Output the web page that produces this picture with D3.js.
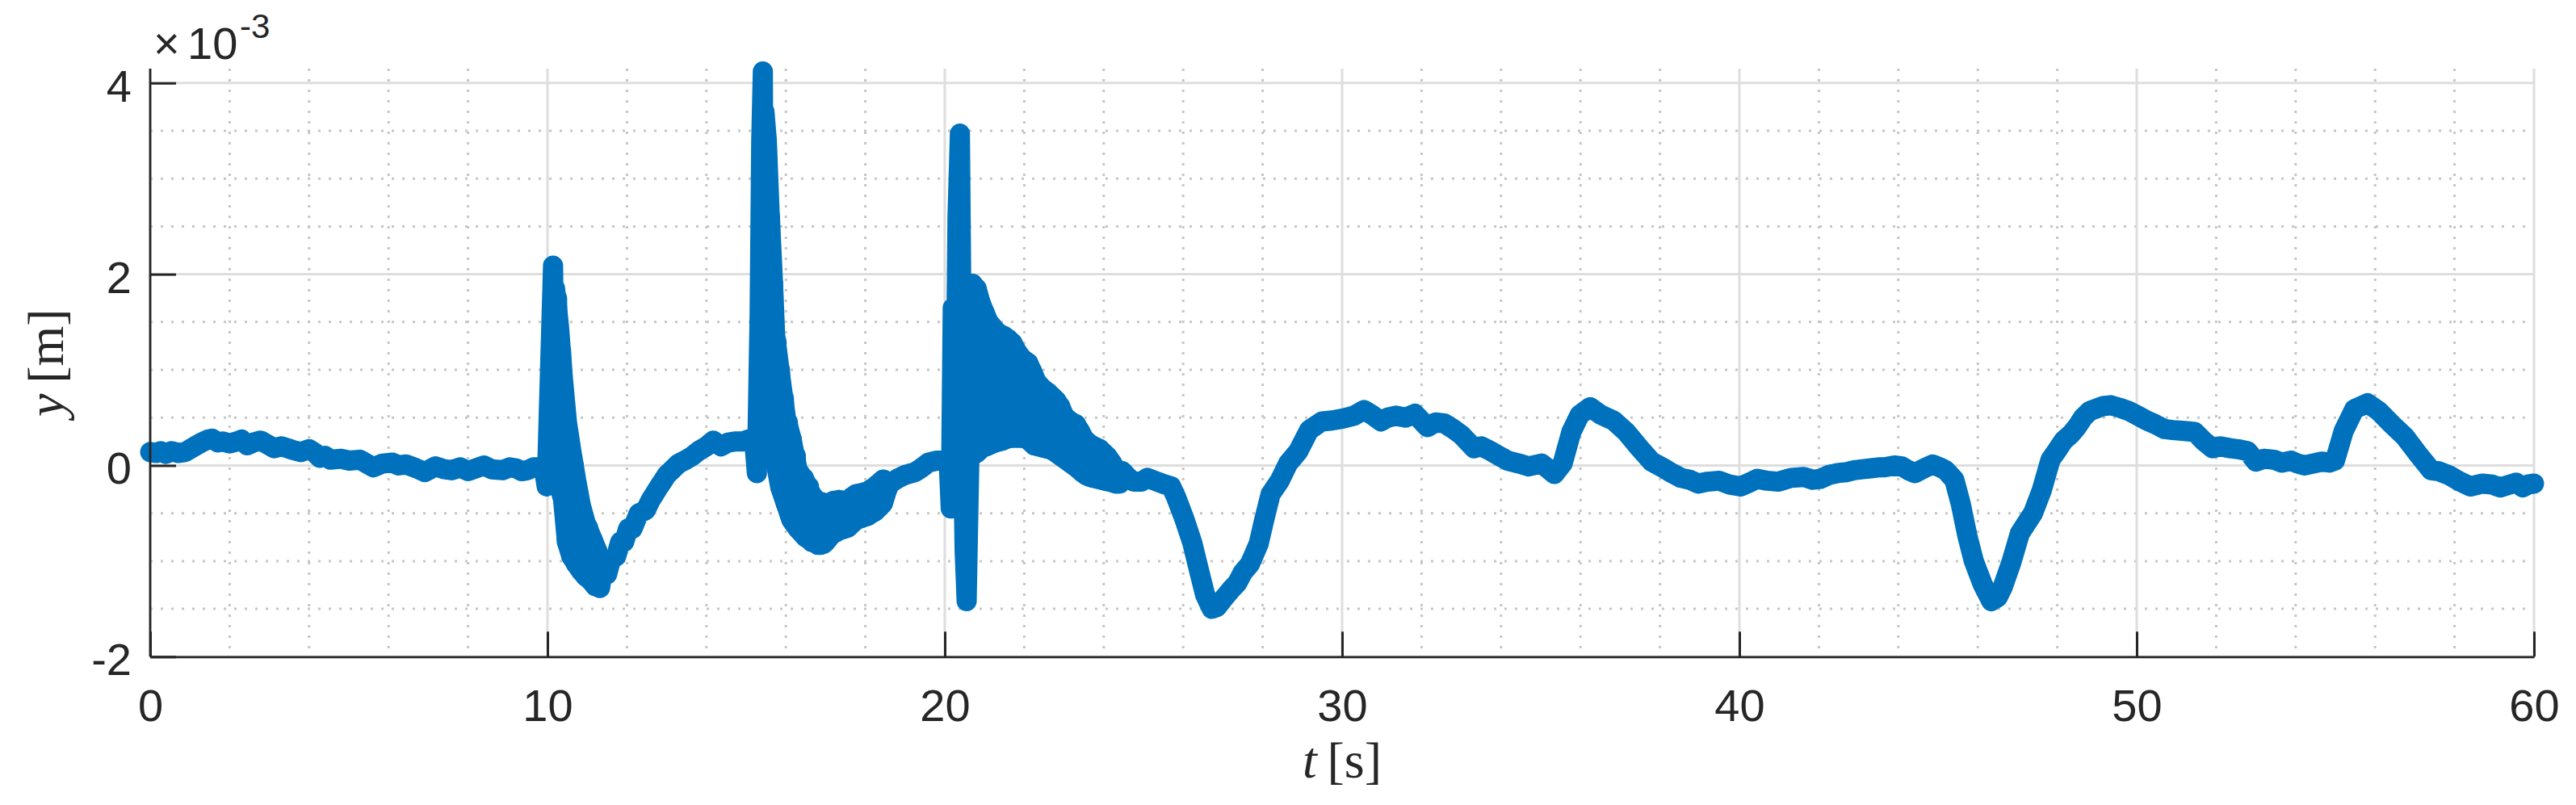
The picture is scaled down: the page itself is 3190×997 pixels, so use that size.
<!DOCTYPE html>
<html>
<head>
<meta charset="utf-8">
<script src="https://cdn.jsdelivr.net/npm/d3@7"></script>
<style>
  html, body { margin: 0; padding: 0; background: #ffffff; }
  svg { display: block; }
</style>
</head>
<body>
<svg id="chart" width="3190" height="997"></svg>
<script>
// ---------- data (time in s, displacement in units of 1e-3 m) ----------
const time = [
  0, 0.15, 0.27, 0.4, 0.54, 0.7, 0.88, 1.08, 1.29, 1.45, 1.56, 1.7, 1.83, 2.0, 2.17, 2.3, 2.44, 2.6, 2.78, 2.95,
  3.12, 3.3, 3.46, 3.6, 3.79, 4.0, 4.15, 4.27, 4.4, 4.54, 4.8, 5.01, 5.28, 5.45, 5.62, 5.85, 6.1, 6.25, 6.44, 6.7,
  6.91, 7.18, 7.4, 7.59, 7.8, 8.0, 8.2, 8.4, 8.6, 8.87, 9.05, 9.21, 9.35, 9.49, 9.65, 9.76, 9.9, 9.98, 10.05, 10.14,
  10.19, 10.24, 10.29, 10.34, 10.39, 10.44, 10.49, 10.54, 10.6, 10.66, 10.72, 10.78, 10.84, 10.9, 10.96, 11.02, 11.08, 11.14, 11.2, 11.26,
  11.32, 11.4, 11.5, 11.6, 11.73, 11.83, 11.93, 12.03, 12.14, 12.3, 12.47, 12.6, 12.81, 13.0, 13.15, 13.3, 13.49, 13.65, 13.83, 14.0,
  14.17, 14.37, 14.55, 14.71, 14.9, 15.12, 15.2, 15.27, 15.34, 15.38, 15.42, 15.46, 15.52, 15.56, 15.6, 15.64, 15.68, 15.72, 15.76, 15.8,
  15.85, 15.9, 15.95, 16.0, 16.05, 16.1, 16.15, 16.2, 16.25, 16.3, 16.35, 16.4, 16.45, 16.5, 16.58, 16.65, 16.72, 16.8, 16.88, 16.95,
  17.02, 17.1, 17.18, 17.26, 17.34, 17.42, 17.5, 17.58, 17.66, 17.74, 17.82, 17.9, 17.98, 18.06, 18.14, 18.22, 18.3, 18.38, 18.46, 18.55,
  18.62, 18.8, 19.0, 19.25, 19.4, 19.59, 19.8, 20.0, 20.1, 20.15, 20.2, 20.25, 20.32, 20.38, 20.44, 20.5, 20.55, 20.62, 20.7, 20.75,
  20.8, 20.85, 20.9, 20.95, 21.0, 21.05, 21.1, 21.15, 21.2, 21.25, 21.3, 21.35, 21.4, 21.45, 21.5, 21.55, 21.6, 21.65, 21.7, 21.75,
  21.8, 21.85, 21.9, 21.95, 22.0, 22.05, 22.1, 22.15, 22.2, 22.25, 22.3, 22.35, 22.4, 22.45, 22.5, 22.55, 22.6, 22.65, 22.7, 22.75,
  22.8, 22.85, 22.9, 22.95, 23.0, 23.05, 23.1, 23.15, 23.2, 23.25, 23.3, 23.35, 23.4, 23.45, 23.5, 23.55, 23.6, 23.65, 23.7, 23.75,
  23.8, 23.85, 23.9, 23.95, 24.0, 24.05, 24.1, 24.15, 24.2, 24.25, 24.32, 24.4, 24.47, 24.6, 24.75, 24.95, 25.1, 25.35, 25.55, 25.7,
  25.83, 26.03, 26.23, 26.4, 26.55, 26.72, 26.85, 27.04, 27.2, 27.36, 27.5, 27.68, 27.9, 28.05, 28.2, 28.43, 28.64, 28.9, 29.17, 29.49,
  29.75, 30.02, 30.3, 30.55, 30.75, 30.98, 31.15, 31.35, 31.6, 31.83, 32.15, 32.35, 32.57, 32.8, 33.0, 33.32, 33.5, 33.74, 33.95, 34.17,
  34.45, 34.7, 35.02, 35.2, 35.34, 35.55, 35.77, 35.98, 36.24, 36.51, 36.83, 37.15, 37.47, 37.79, 38.1, 38.3, 38.53, 38.75, 38.96, 39.2,
  39.49, 39.75, 40.03, 40.25, 40.45, 40.7, 40.98, 41.3, 41.62, 41.85, 42.04, 42.25, 42.47, 42.7, 42.89, 43.1, 43.31, 43.5, 43.65, 43.9,
  44.09, 44.25, 44.42, 44.65, 44.86, 45.05, 45.19, 45.41, 45.57, 45.74, 45.9, 46.12, 46.34, 46.5, 46.62, 46.84, 47.06, 47.2, 47.39, 47.61,
  47.83, 48.0, 48.16, 48.35, 48.49, 48.65, 48.82, 49.15, 49.35, 49.59, 49.8, 50.03, 50.25, 50.47, 50.7, 50.91, 51.2, 51.46, 51.7, 51.91,
  52.1, 52.35, 52.55, 52.79, 53.0, 53.2, 53.45, 53.65, 53.89, 54.05, 54.22, 54.45, 54.66, 54.85, 54.99, 55.21, 55.48, 55.81, 56.09, 56.42,
  56.75, 57.08, 57.41, 57.6, 57.85, 58.1, 58.4, 58.7, 58.95, 59.15, 59.39, 59.55, 59.72, 59.85, 60.0
];
const displacement = [
  0.14, 0.13, 0.15, 0.12, 0.15, 0.13, 0.14, 0.19, 0.24, 0.27, 0.28, 0.24, 0.25, 0.23, 0.25, 0.27, 0.21, 0.24, 0.26, 0.22,
  0.18, 0.2, 0.18, 0.16, 0.14, 0.17, 0.13, 0.08, 0.1, 0.06, 0.07, 0.05, 0.06, 0.02, -0.02, 0.02, 0.03, 0.0, 0.01, -0.03,
  -0.07, -0.01, -0.04, -0.05, -0.02, -0.06, -0.03, 0.0, -0.04, -0.05, -0.02, -0.03, -0.06, -0.05, -0.02, -0.02, -0.01, -0.22, 0.8, 2.09,
  0.15, 1.75, -0.2, 1.2, -0.35, 0.6, -0.8, 0.3, -0.95, 0.0, -1.03, -0.3, -1.1, -0.55, -1.16, -0.65, -1.2, -0.78, -1.26, -0.9,
  -1.28, -1.1, -1.14, -0.98, -0.95, -0.8, -0.8, -0.66, -0.66, -0.5, -0.47, -0.36, -0.22, -0.1, -0.04, 0.02, 0.06, 0.1, 0.16, 0.2,
  0.26, 0.2, 0.24, 0.25, 0.25, 0.28, 0.27, -0.08, 1.6, 3.4, 4.12, 0.63, 3.3, 0.45, 2.6, 0.3, 1.9, 0.1, 1.3, -0.05,
  1.0, -0.25, 0.7, -0.4, 0.45, -0.52, 0.27, -0.6, 0.1, -0.66, -0.08, -0.7, -0.13, -0.75, -0.22, -0.8, -0.34, -0.83, -0.38, -0.82,
  -0.41, -0.73, -0.38, -0.7, -0.36, -0.67, -0.37, -0.63, -0.33, -0.58, -0.3, -0.55, -0.28, -0.53, -0.25, -0.48, -0.2, -0.42, -0.15, -0.25,
  -0.19, -0.14, -0.1, -0.07, -0.03, 0.03, 0.05, 0.05, 0.02, -0.45, 1.65, -0.35, 2.6, 3.47, 0.6, -0.9, -1.42, 0.1, 1.9, 0.12,
  1.85, 0.15, 1.7, 0.2, 1.6, 0.2, 1.5, 0.22, 1.45, 0.24, 1.4, 0.25, 1.37, 0.26, 1.35, 0.28, 1.32, 0.29, 1.28, 0.29,
  1.2, 0.29, 1.14, 0.29, 1.1, 0.28, 1.07, 0.25, 0.98, 0.21, 0.88, 0.2, 0.83, 0.19, 0.79, 0.18, 0.76, 0.17, 0.72, 0.15,
  0.68, 0.12, 0.62, 0.09, 0.52, 0.06, 0.48, 0.03, 0.45, 0.0, 0.43, -0.03, 0.36, -0.07, 0.28, -0.1, 0.24, -0.12, 0.21, -0.13,
  0.19, -0.14, 0.17, -0.15, 0.13, -0.16, 0.09, -0.17, 0.03, -0.18, -0.05, -0.19, -0.06, -0.12, -0.17, -0.17, -0.13, -0.17, -0.2, -0.22,
  -0.34, -0.56, -0.81, -1.1, -1.35, -1.5, -1.48, -1.38, -1.3, -1.23, -1.12, -1.03, -0.82, -0.55, -0.3, -0.16, 0.02, 0.15, 0.37, 0.46,
  0.47, 0.49, 0.52, 0.58, 0.53, 0.46, 0.5, 0.52, 0.5, 0.54, 0.4, 0.45, 0.44, 0.38, 0.32, 0.18, 0.2, 0.15, 0.1, 0.05,
  0.02, -0.01, 0.02, -0.04, -0.09, 0.02, 0.35, 0.53, 0.61, 0.53, 0.47, 0.35, 0.19, 0.04, -0.03, -0.08, -0.13, -0.15, -0.19, -0.17,
  -0.16, -0.2, -0.22, -0.18, -0.14, -0.16, -0.17, -0.13, -0.12, -0.15, -0.14, -0.1, -0.08, -0.07, -0.05, -0.04, -0.03, -0.02, -0.02, 0.0,
  -0.01, -0.05, -0.08, -0.03, 0.01, -0.02, -0.05, -0.15, -0.4, -0.74, -1.0, -1.24, -1.42, -1.38, -1.28, -1.02, -0.71, -0.62, -0.5, -0.26,
  0.06, 0.16, 0.26, 0.33, 0.4, 0.5, 0.57, 0.62, 0.63, 0.6, 0.57, 0.52, 0.47, 0.43, 0.38, 0.37, 0.36, 0.35, 0.25, 0.18,
  0.2, 0.18, 0.17, 0.15, 0.04, 0.07, 0.06, 0.03, 0.05, 0.02, 0.0, 0.02, 0.04, 0.03, 0.05, 0.36, 0.59, 0.65, 0.57, 0.43,
  0.3, 0.12, -0.05, -0.06, -0.1, -0.16, -0.22, -0.19, -0.2, -0.23, -0.2, -0.18, -0.23, -0.2, -0.19
];

// envelopes of the fast oscillation (the dense blue bands after each impact)
const band1Time  = [10.19, 10.29, 10.39, 10.49, 10.6, 10.72, 10.84, 10.96, 11.08, 11.2, 11.32];
const band1Upper = [1.85, 1.45, 0.9, 0.45, 0.15, -0.15, -0.42, -0.6, -0.72, -0.84, -0.97];
const band1Lower = [0.15, -0.2, -0.35, -0.8, -0.95, -1.03, -1.1, -1.16, -1.2, -1.26, -1.28];

const band2Time  = [15.46, 15.52, 15.59, 15.66, 15.73, 15.86, 16.0, 16.14, 16.3, 16.47, 16.6, 16.75, 16.88, 17.0, 17.2, 17.4, 17.56, 17.76, 18.03, 18.25, 18.44, 18.55];
const band2Upper = [3.7, 3.4, 2.65, 2.05, 1.36, 0.93, 0.5, 0.28, -0.06, -0.15, -0.27, -0.37, -0.39, -0.41, -0.37, -0.37, -0.37, -0.3, -0.28, -0.22, -0.15, -0.17];
const band2Lower = [0.63, 0.5, 0.33, 0.2, 0.07, -0.23, -0.4, -0.57, -0.66, -0.74, -0.78, -0.81, -0.83, -0.8, -0.7, -0.67, -0.65, -0.57, -0.53, -0.48, -0.4, -0.25];

const band3Time  = [20.68, 20.8, 20.9, 21.0, 21.1, 21.2, 21.3, 21.4, 21.5, 21.6, 21.7, 21.8, 21.9, 22.0, 22.1, 22.2, 22.3, 22.4, 22.5,
                    22.6, 22.7, 22.8, 22.9, 23.0, 23.1, 23.2, 23.3, 23.4, 23.5, 23.6, 23.7, 23.8, 23.9, 24.0, 24.1, 24.2, 24.32];
const band3Upper = [1.9, 1.85, 1.7, 1.6, 1.5, 1.45, 1.4, 1.37, 1.35, 1.32, 1.28, 1.2, 1.14, 1.1, 1.07, 0.98, 0.88, 0.83, 0.79,
                    0.76, 0.72, 0.68, 0.62, 0.52, 0.48, 0.45, 0.43, 0.36, 0.28, 0.24, 0.21, 0.19, 0.17, 0.13, 0.09, 0.03, -0.05];
const band3Lower = [0.1, 0.13, 0.17, 0.2, 0.21, 0.23, 0.245, 0.255, 0.27, 0.285, 0.29, 0.29, 0.29, 0.285, 0.27, 0.23, 0.205, 0.195, 0.185,
                    0.175, 0.16, 0.135, 0.105, 0.075, 0.045, 0.015, -0.015, -0.05, -0.085, -0.11, -0.125, -0.135, -0.145, -0.155, -0.165, -0.175, -0.19];

const xTicks = [0, 10, 20, 30, 40, 50, 60];
const xMinor = [2, 4, 6, 8, 12, 14, 16, 18, 22, 24, 26, 28, 32, 34, 36, 38, 42, 44, 46, 48, 52, 54, 56, 58];
const yTicks = [-2, 0, 2, 4];
const yMinor = [-1.5, -1, -0.5, 0.5, 1, 1.5, 2.5, 3, 3.5];
const yLimits = [-2, 4.15];
const xLimits = [0, 60];
const xLabel = "t";
const xUnit = "[s]";
const yLabel = "y";
const yUnit = "[m]";

// ---------- layout ----------
const L = 186, R = 3138, T = 85, B = 813.3;
const axisColor = "#262626";
const lineColor = "#0072BD";
const lineWidth = 25;
const sansFont = "'Liberation Sans', Arial, Helvetica, sans-serif";
const serifFont = "'Liberation Serif', 'Times New Roman', serif";

const svg = d3.select("#chart");
const x = d3.scaleLinear().domain(xLimits).range([L, R]);
const y = d3.scaleLinear().domain(yLimits).range([B, T]);

// ---------- grid ----------
const grid = svg.append("g");
grid.selectAll("line.xminor").data(xMinor).join("line")
  .attr("x1", d => x(d)).attr("x2", d => x(d)).attr("y1", T).attr("y2", B)
  .attr("stroke", "#c6c6c6").attr("stroke-width", 3).attr("stroke-dasharray", "3,10");
grid.selectAll("line.yminor").data(yMinor).join("line")
  .attr("x1", L).attr("x2", R).attr("y1", d => y(d)).attr("y2", d => y(d))
  .attr("stroke", "#c6c6c6").attr("stroke-width", 3).attr("stroke-dasharray", "3,10");
grid.selectAll("line.xmajor").data(xTicks).join("line")
  .attr("x1", d => x(d)).attr("x2", d => x(d)).attr("y1", T).attr("y2", B)
  .attr("stroke", "#dedede").attr("stroke-width", 3);
grid.selectAll("line.ymajor").data(yTicks).join("line")
  .attr("x1", L).attr("x2", R).attr("y1", d => y(d)).attr("y2", d => y(d))
  .attr("stroke", "#dedede").attr("stroke-width", 3);

// ---------- data ----------
const area = d3.area().x(d => x(d.t)).y0(d => y(d.lo)).y1(d => y(d.hi));
[[band1Time, band1Upper, band1Lower], [band2Time, band2Upper, band2Lower], [band3Time, band3Upper, band3Lower]]
  .forEach(([ts, up, lo]) => {
    svg.append("path")
      .datum(ts.map((t, i) => ({ t, hi: up[i], lo: lo[i] })))
      .attr("fill", lineColor)
      .attr("stroke", lineColor)
      .attr("stroke-width", lineWidth)
      .attr("stroke-linejoin", "round")
      .attr("d", area);
  });

const pts = time.map((t, i) => [t, displacement[i]]);
svg.append("path")
  .datum(pts)
  .attr("fill", "none")
  .attr("stroke", lineColor)
  .attr("stroke-width", lineWidth)
  .attr("stroke-linejoin", "round")
  .attr("stroke-linecap", "round")
  .attr("d", d3.line().x(d => x(d[0])).y(d => y(d[1])));

// ---------- axes ----------
const xAxis = d3.axisBottom(x).tickValues(xTicks).tickSizeInner(-31).tickSizeOuter(0).tickPadding(40)
  .tickFormat(d3.format("d"));
const gx = svg.append("g").attr("transform", `translate(0,${B})`).call(xAxis);
const yAxis = d3.axisLeft(y).tickValues(yTicks).tickSizeInner(-32).tickSizeOuter(0).tickPadding(23)
  .tickFormat(d => (d < 0 ? "-" + Math.abs(d) : String(d)));
const gy = svg.append("g").attr("transform", `translate(${L},0)`).call(yAxis);

[gx, gy].forEach(g => {
  g.select(".domain").attr("stroke", axisColor).attr("stroke-width", 2.8);
  g.selectAll(".tick line").attr("stroke", axisColor).attr("stroke-width", 3);
  g.selectAll(".tick text").attr("fill", axisColor).attr("font-family", sansFont).attr("font-size", 56);
});
gx.selectAll(".tick text").attr("dy", "0.71em");
gy.selectAll(".tick text").attr("dy", "0.4em");
gy.select(".domain").attr("d", `M0,${T}V${B}`);

// ---------- exponent ----------
const expo = svg.append("text").attr("fill", axisColor).attr("font-family", sansFont);
expo.append("tspan").attr("x", 190).attr("y", 73).attr("font-size", 56).text("\u00d7");
expo.append("tspan").attr("x", 232).attr("y", 73).attr("font-size", 56).text("10");
expo.append("tspan").attr("x", 297).attr("y", 47).attr("font-size", 42).text("-3");

// ---------- axis labels ----------
const xl = svg.append("text")
  .attr("x", (L + R) / 2).attr("y", 963)
  .attr("text-anchor", "middle")
  .attr("fill", axisColor).attr("font-family", serifFont).attr("font-size", 64);
xl.append("tspan").attr("font-style", "italic").text(xLabel);
xl.append("tspan").text("\u2009" + xUnit);

const yl = svg.append("text")
  .attr("transform", `translate(78,${(T + B) / 2}) rotate(-90)`)
  .attr("text-anchor", "middle")
  .attr("fill", axisColor).attr("font-family", serifFont).attr("font-size", 64);
yl.append("tspan").attr("font-style", "italic").text(yLabel);
yl.append("tspan").text("\u2009" + yUnit);
</script>
</body>
</html>
